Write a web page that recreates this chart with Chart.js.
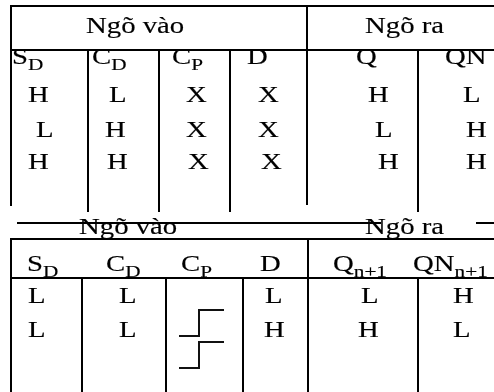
<!DOCTYPE html>
<html>
<head>
<meta charset="utf-8">
<script src="https://cdn.jsdelivr.net/npm/chart.js@4.4.0/dist/chart.umd.min.js"></script>
<style>
html,body{margin:0;padding:0;background:#fff;}
canvas{display:block;}
</style>
</head>
<body>
<canvas id="c" width="494" height="392"></canvas>
<script>
// ---- values ----
const groupHeaders = ["Ngõ vào", "Ngõ ra"];
const headers1 = [["S","D"],["C","D"],["C","P"],["D",""],["Q",""],["QN",""]];
const rows1 = [
  ["H","L","X","X","H","L"],
  ["L","H","X","X","L","H"],
  ["H","H","X","X","H","H"]
];
const headers2 = [["S","D"],["C","D"],["C","P"],["D",""],["Q","n+1"],["QN","n+1"]];
const rows2 = [
  ["L","L","","L","L","H"],
  ["L","L","","H","H","L"]
];
// clock edge waveform (rising edge) samples: time, level
const edgeT = [0, 1, 1, 2.25];
const edgeLevel = [0, 0, 1, 1];

// ---- layout (positions in table units) ----
const groupX1 = [87, 366], groupY1 = 33;
const headX1 = [13, 93, 173, 248, 357, 446], headY1 = 64;
const cellX1 = [
  [29,110,187,259,369,464],
  [37,106,187,259,376,467],
  [29,108,189,262,379,467]
];
const rowY1 = [102, 137, 169];
const groupX2 = [80, 366], groupY2 = 234;
const headX2 = [28, 107, 182, 261, 334, 414], headY2 = 271;
const cellX2 = [
  [29,120,0,266,362,454],
  [29,120,0,265,359,454]
];
const rowY2 = [303, 337];
const edgeBase = [[179,336],[179,368]]; // x0, low-level y
const edgeDx = 20, edgeDy = 26;

const hLines = [ // y, x1, x2
  [6, 11, 494], [50, 11, 494],
  [223, 17, 381], [223, 476, 494],
  [239, 11, 494], [278, 11, 494]
];
const vLines = [ // x, y1, y2
  [11, 5, 206], [88, 50, 212], [159, 50, 212], [230, 50, 212], [307, 6, 205], [418, 50, 212],
  [11, 238, 392], [82, 278, 392], [166, 278, 392], [243, 278, 392], [308, 239, 392], [418, 278, 392]
];

const datasets = [];
hLines.forEach(l => datasets.push({data:[{x:l[1],y:l[0]},{x:l[2],y:l[0]}], borderColor:'#000', borderWidth:2}));
vLines.forEach(l => datasets.push({data:[{x:l[0],y:l[1]},{x:l[0],y:l[2]}], borderColor:'#000', borderWidth:2}));
edgeBase.forEach(b => {
  datasets.push({
    data: edgeT.map((t,i) => ({x: b[0] + t*edgeDx, y: b[1] - edgeLevel[i]*edgeDy})),
    borderColor:'#111', borderWidth:2
  });
});
datasets.forEach(d => { d.showLine = true; d.pointRadius = 0; d.fill = false; d.tension = 0; d.borderCapStyle = 'butt'; });

const HS = 1.25; // horizontal text stretch
function drawText(ctx, sx, sy, txt, size) {
  ctx.save();
  ctx.translate(sx, sy);
  ctx.scale(HS, 1);
  ctx.font = size + 'px "Liberation Serif", "Times New Roman", serif';
  ctx.lineWidth = 0.15;
  ctx.strokeStyle = '#000';
  ctx.fillText(txt, 0, 0);
  ctx.strokeText(txt, 0, 0);
  const w = ctx.measureText(txt).width * HS;
  ctx.restore();
  return w;
}

const textPlugin = {
  id: 'tableText',
  afterDatasetsDraw(chart) {
    const ctx = chart.ctx, xs = chart.scales.x, ys = chart.scales.y;
    ctx.save();
    ctx.fillStyle = '#000';
    ctx.textAlign = 'left';
    ctx.textBaseline = 'alphabetic';
    const put = (x, y, label) => {
      const px = xs.getPixelForValue(x), py = ys.getPixelForValue(y);
      const main = Array.isArray(label) ? label[0] : label;
      const sub = Array.isArray(label) ? label[1] : '';
      const w = drawText(ctx, px - 1, py, main, 23);
      if (sub) drawText(ctx, px - 1 + w, py + 6, sub, 17);
    };
    groupHeaders.forEach((g,i) => put(groupX1[i], groupY1, g));
    headers1.forEach((h,i) => put(headX1[i], headY1, h));
    rows1.forEach((r,ri) => r.forEach((v,ci) => { if (v) put(cellX1[ri][ci], rowY1[ri], v); }));
    groupHeaders.forEach((g,i) => put(groupX2[i], groupY2, g));
    headers2.forEach((h,i) => put(headX2[i], headY2, h));
    rows2.forEach((r,ri) => r.forEach((v,ci) => { if (v) put(cellX2[ri][ci], rowY2[ri], v); }));
    ctx.restore();
  }
};

new Chart(document.getElementById('c'), {
  type: 'scatter',
  data: { datasets },
  options: {
    responsive: false,
    animation: false,
    layout: { padding: 0 },
    plugins: { legend: { display: false }, tooltip: { enabled: false } },
    scales: {
      x: { type: 'linear', min: 0, max: 494, display: false },
      y: { type: 'linear', min: 0, max: 392, reverse: true, display: false }
    },
    elements: { line: { borderJoinStyle: 'miter' } }
  },
  plugins: [textPlugin]
});
</script>
</body>
</html>
